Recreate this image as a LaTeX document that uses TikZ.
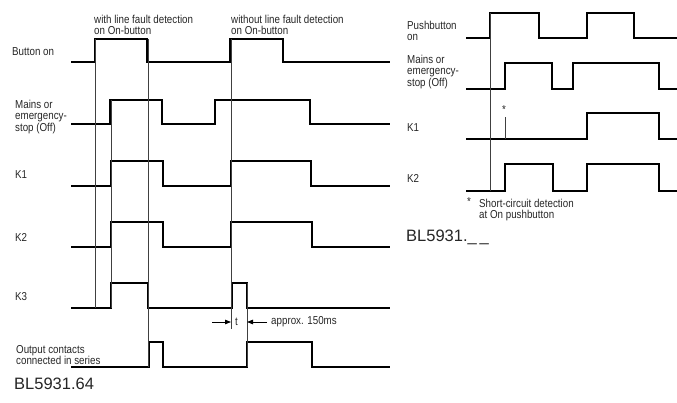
\documentclass[tikz,border=0pt]{standalone}
\usepackage{fontspec}
\setmainfont{Liberation Sans}
\newfontfamily\condf{Liberation Sans}[FakeStretch=0.85]
\usetikzlibrary{arrows.meta}
\begin{document}
\begin{tikzpicture}[x=1pt,y=-1pt,
  sig/.style={line width=1.3pt, line join=miter},
  guide/.style={line width=0.6pt, black!75},
  lbl/.style={font=\condf\fontsize{11.5}{10.5}\selectfont, anchor=west, inner sep=0pt, align=left, text=black!85},
  toplbl/.style={lbl, font=\condf\fontsize{11.5}{11.5}\selectfont},
  big/.style={font=\fontsize{16.5}{18}\selectfont, anchor=west, inner sep=0pt, text=black!85},
  dimarr/.style={-{Triangle[length=6pt,width=4.5pt]}, line width=0.8pt}
]
\useasboundingbox (0,0) rectangle (677,402);

% ---------- left diagram labels
\node[toplbl] (w1) at (94,25) {with line fault detection\\on On-button};
\node[toplbl] (w2) at (231,25) {without line fault detection\\on On-button};
\node[lbl] (lb) at (12,52) {Button on};
\node[lbl] (lm) at (15,117) {Mains or\\emergency-\\stop (Off)};
\node[lbl] (lk1) at (15,175) {K1};
\node[lbl] (lk2) at (15,237) {K2};
\node[lbl] (lk3) at (15,297) {K3};
\node[lbl] (lo) at (16,355) {Output contacts\\connected in series};
\node[big] (bl1) at (14,384) {BL5931.64};

% ---------- left signals
\draw[sig] (71,62) -| (95,39) -| (147,62) -| (230,39) -| (283,62) -- (390,62);
\draw[sig] (71,124) -| (110,100) -| (162,124) -| (215,100) -| (310,124) -- (390,124);
\draw[sig] (71,186) -| (111,161) -| (163,186) -| (231,161) -| (311,186) -- (390,186);
\draw[sig] (71,247) -| (111,222) -| (163,247) -| (231,222) -| (312,247) -- (390,247);
\draw[sig] (71,308) -| (111,283) -| (148,308) -| (232,283) -| (247,308) -- (390,308);
\draw[sig] (71,367) -| (149,342) -| (163,367) -| (247,342) -| (312,367) -- (390,367);

% guides
\draw[guide] (95,39) -- (95,308);
\draw[guide] (111,100) -- (111,308);
\draw[guide] (148,39) -- (148,367);
\draw[guide] (231,39) -- (231,329);
\draw[guide] (247,283) -- (247,367);

% time marker
\coordinate (ta) at (212,322);
\coordinate (tb) at (231,322);
\coordinate (tc) at (267,322);
\coordinate (td) at (247,322);
\draw[dimarr] (ta) -- (tb);
\draw[dimarr] (tc) -- (td);
\node[lbl] (tt) at (235,322) {t};
\node[lbl] (ap) at (271,322) {approx. 150ms};

% ---------- right diagram labels
\node[lbl] (rp) at (407,31) {Pushbutton\\on};
\node[lbl] (rm) at (407,72) {Mains or\\emergency-\\stop (Off)};
\node[lbl] (rk1) at (407,128) {K1};
\node[lbl] (rk2) at (407,178) {K2};
\node[lbl] (ast) at (467,202) {*};
\node[lbl] (sc) at (479,210) {Short-circuit detection\\at On pushbutton};
\node[big] (bl2) at (406,237) {BL5931.\_\,\_};

% ---------- right signals
\draw[sig] (466,38) -| (490,13) -| (539,38) -| (587,13) -| (634,38) -- (677,38);
\draw[sig] (466,89) -| (505,63) -| (552,89) -| (573,63) -| (659,89) -- (677,89);
\draw[sig] (466,139) -| (587,113) -| (659,139) -- (677,139);
\draw[sig] (466,191) -| (505,164) -| (553,191) -| (587,164) -| (659,191) -- (677,191);
\draw[guide] (490,13) -- (490,191);
\draw[guide] (505,117) -- (505,139);
\node[lbl] (ast2) at (502,110) {*};
\end{tikzpicture}
\end{document}
